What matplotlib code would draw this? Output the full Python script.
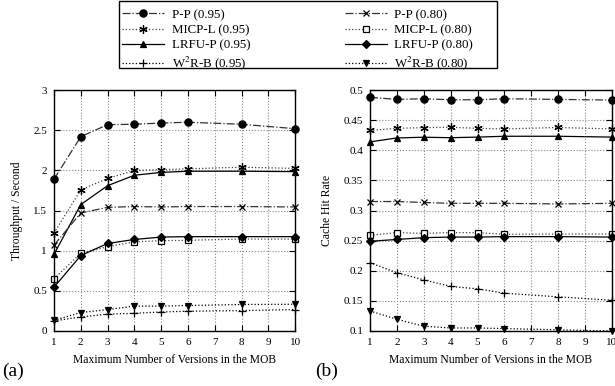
import matplotlib.pyplot as plt
from matplotlib.patches import Rectangle
from matplotlib.ticker import FormatStrFormatter

plt.rcParams['font.family'] = ['Liberation Serif', 'DejaVu Serif']
plt.rcParams['mathtext.fontset'] = 'stix'

versions = [1, 2, 3, 4, 5, 6, 8, 10]

# (a) throughput per second
tp_pp_95 = [1.89, 2.42, 2.57, 2.575, 2.59, 2.60, 2.575, 2.52]
tp_pp_80 = [1.07, 1.47, 1.54, 1.55, 1.545, 1.55, 1.55, 1.545]
tp_micp_95 = [1.22, 1.757, 1.90, 2.00, 2.01, 2.02, 2.04, 2.025]
tp_micp_80 = [0.65, 0.97, 1.05, 1.11, 1.125, 1.13, 1.145, 1.145]
tp_lrfu_95 = [0.955, 1.575, 1.81, 1.94, 1.975, 1.99, 1.99, 1.985]
tp_lrfu_80 = [0.545, 0.94, 1.09, 1.14, 1.17, 1.175, 1.175, 1.175]
tp_w2r_95 = [0.125, 0.175, 0.21, 0.22, 0.237, 0.246, 0.254, 0.267]
tp_w2r_80 = [0.133, 0.23, 0.267, 0.31, 0.31, 0.317, 0.33, 0.333]

# (b) cache hit rate
hr_pp_95 = [0.488, 0.4846, 0.4857, 0.484, 0.484, 0.4857, 0.4846, 0.4835]
hr_pp_80 = [0.315, 0.315, 0.3134, 0.312, 0.312, 0.312, 0.311, 0.312]
hr_micp_95 = [0.433, 0.4366, 0.4377, 0.4383, 0.4366, 0.4355, 0.438, 0.4355]
hr_micp_80 = [0.259, 0.2634, 0.262, 0.2634, 0.2634, 0.2606, 0.261, 0.261]
hr_lrfu_95 = [0.414, 0.4206, 0.4218, 0.421, 0.422, 0.4234, 0.4234, 0.422]
hr_lrfu_80 = [0.249, 0.252, 0.255, 0.256, 0.256, 0.2567, 0.2567, 0.256]
hr_w2r_95 = [0.2134, 0.1967, 0.185, 0.174, 0.17, 0.1628, 0.1567, 0.151]
hr_w2r_80 = [0.1333, 0.1194, 0.108, 0.105, 0.105, 0.104, 0.102, 0.1]

labels = ['P-P (0.95)', 'MICP-L (0.95)', 'LRFU-P (0.95)', r'W$^2$R-B (0.95)',
          'P-P (0.80)', 'MICP-L (0.80)', 'LRFU-P (0.80)', r'W$^2$R-B (0.80)']
styles = [
    dict(ls='-.', marker='o', ms=5.2, mfc='black', color='#333333'),
    dict(ls=':', marker=(6, 2, 0), ms=6, color='#444444'),
    dict(ls='-', marker='^', ms=4.5, mfc='black', color='black'),
    dict(ls=':', marker='+', ms=5.5, color='black'),
    dict(ls='-.', marker='x', ms=5, color='#333333'),
    dict(ls=':', marker='s', ms=5, mfc='white', color='#444444'),
    dict(ls='-', marker='D', ms=3.6, mfc='black', color='black'),
    dict(ls=':', marker='v', ms=4.5, mfc='black', color='black'),
]

fig = plt.figure(figsize=(6.15, 3.86), dpi=100)
ax1 = fig.add_axes([0.0878, 0.1425, 0.392, 0.624])
ax2 = fig.add_axes([0.6016, 0.1425, 0.3935, 0.624])

series_a = [tp_pp_95, tp_micp_95, tp_lrfu_95, tp_w2r_95,
            tp_pp_80, tp_micp_80, tp_lrfu_80, tp_w2r_80]
series_b = [hr_pp_95, hr_micp_95, hr_lrfu_95, hr_w2r_95,
            hr_pp_80, hr_micp_80, hr_lrfu_80, hr_w2r_80]

handles = []
for vals, lab, st in zip(series_a, labels, styles):
    h, = ax1.plot(versions, vals, lw=0.9, mec='black', mew=0.9, label=lab,
                  clip_on=False, **st)
    handles.append(h)
for vals, st in zip(series_b, styles):
    ax2.plot(versions, vals, lw=0.9, mec='black', mew=0.9, clip_on=False, **st)

for ax in (ax1, ax2):
    ax.set_xlim(1, 10)
    ax.set_xticks(range(1, 11))
    ax.grid(True, ls=':', color='#888888', lw=0.8)
    ax.tick_params(direction='in', top=True, right=True, labelsize=8,
                   length=4, width=0.8, pad=5)
    for sp in ax.spines.values():
        sp.set_linewidth(1.0)
    ax.set_xlabel('Maximum Number of Versions in the MOB', fontsize=8.4,
                  labelpad=5)
    ax.set_axisbelow(True)

ax1.set_ylim(0, 3)
ax1.set_yticks([0, 0.5, 1, 1.5, 2, 2.5, 3])
ax1.yaxis.set_major_formatter(FormatStrFormatter('%g'))
ax1.set_ylabel('Throughput / Second', fontsize=8.4, labelpad=7)

ax2.set_ylim(0.1, 0.5)
ax2.set_yticks([0.1, 0.15, 0.2, 0.25, 0.3, 0.35, 0.4, 0.45, 0.5])
ax2.yaxis.set_major_formatter(FormatStrFormatter('%g'))
ax2.set_ylabel('Cache Hit Rate', fontsize=8.4, labelpad=8)

fig.text(0.003, 0.025, '(a)', fontsize=14)
fig.text(0.512, 0.025, '(b)', fontsize=14)

leg = fig.legend(handles=handles, ncol=2, loc='upper left',
                 bbox_to_anchor=(0.195, 0.982), fontsize=9.3, frameon=False,
                 handlelength=3.3, handletextpad=0.55, labelspacing=0.25,
                 borderpad=0.15, borderaxespad=0.0, columnspacing=7.3)
fig.patches.append(Rectangle((0.1935, 0.823), 0.615, 0.175, transform=fig.transFigure,
                             fill=False, edgecolor='black', lw=1.0))

fig.savefig('out.png', dpi=100)
